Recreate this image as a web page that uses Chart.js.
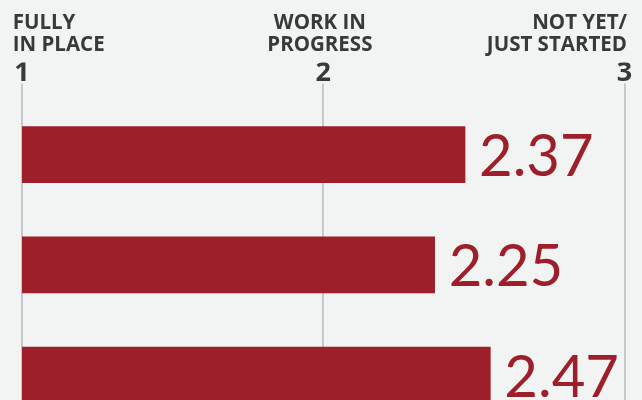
<!DOCTYPE html>
<html>
<head>
<meta charset="utf-8">
<script src="https://cdn.jsdelivr.net/npm/chart.js@4.4.1/dist/chart.umd.min.js"></script>
<style>
html, body { margin: 0; padding: 0; background: #f2f3f3; overflow: hidden; }
#wrap { width: 642px; height: 400px; overflow: hidden; }
</style>
</head>
<body>
<div id="wrap"><canvas id="myChart" width="642" height="440"></canvas></div>
<script>
'use strict';

// data
var categories = ['Row 1', 'Row 2', 'Row 3'];
var scores = [2.37, 2.25, 2.47];
var tickValues = [1, 2, 3];
var tickHeadings = [['FULLY', 'IN PLACE'], ['WORK IN', 'PROGRESS'], ['NOT YET/', 'JUST STARTED']];

var barRed = '#9c1f2a';
var darkGrey = '#37393b';

(function () {

 var ctx = document.getElementById('myChart');

 // big score numbers right after each bar
 var valueLabels = {
   id: 'valueLabels',
   afterDatasetsDraw: function (chart) {
     var c = chart.ctx;
     var meta = chart.getDatasetMeta(0);
     var size = 58;
     c.save();
     c.fillStyle = barRed;
     c.font = '400 ' + size + 'px Lato';
     c.textAlign = 'left';
     c.textBaseline = 'alphabetic';
     meta.data.forEach(function (bar, i) {
       c.fillText(scores[i].toFixed(2), bar.x + 14, bar.y + size * 0.37);
     });
     c.restore();
   }
 };

 function forceTicks(axis) {
   axis.ticks = tickValues.map(function (v) { return { value: v }; });
 }

 new Chart(ctx, {
   type: 'bar',
   data: {
     labels: categories,
     datasets: [{
       data: scores,
       xAxisID: 'xBar',
       backgroundColor: barRed,
       barThickness: 56
     }]
   },
   options: {
     indexAxis: 'y',
     responsive: false,
     animation: false,
     devicePixelRatio: 1,
     layout: { padding: { left: 22, right: 17.5, top: 5.25, bottom: 9.75 } },
     plugins: { legend: { display: false }, tooltip: { enabled: false } },
     scales: {
       x: {
         type: 'linear', axis: 'x', position: 'top', min: 1, max: 3,
         afterBuildTicks: forceTicks,
         ticks: {
           color: darkGrey, padding: -3, autoSkip: false, maxRotation: 0,
           font: { family: 'Open Sans', weight: '700', size: 27, lineHeight: 1 }
         },
         grid: { color: '#c5c9cc', lineWidth: 2, tickLength: 16 },
         border: { display: false }
       },
       // headings above the numbers; its own range puts the outer headings
       // a little outside the 1 and 3 lines like in the picture
       head: {
         type: 'linear', axis: 'x', position: 'top', weight: 1,
         min: 1.0303, max: 2.9919,
         afterBuildTicks: forceTicks,
         ticks: {
           align: 'inner', color: darkGrey, padding: 6.5, autoSkip: false, maxRotation: 0,
           font: { family: 'Open Sans', weight: '700', size: 20.5, lineHeight: 1.08 },
           callback: function (v) { return tickHeadings[tickValues.indexOf(v)]; }
         },
         grid: { display: false, drawTicks: false },
         border: { display: false }
       },
       // bar lengths in the picture follow their own scale, ending at 3
       xBar: { type: 'linear', axis: 'x', display: false, min: 0.62, max: 3 },
       y: { type: 'category', display: false }
     }
   },
   plugins: [valueLabels]
 });

})();
</script>
</body>
</html>
